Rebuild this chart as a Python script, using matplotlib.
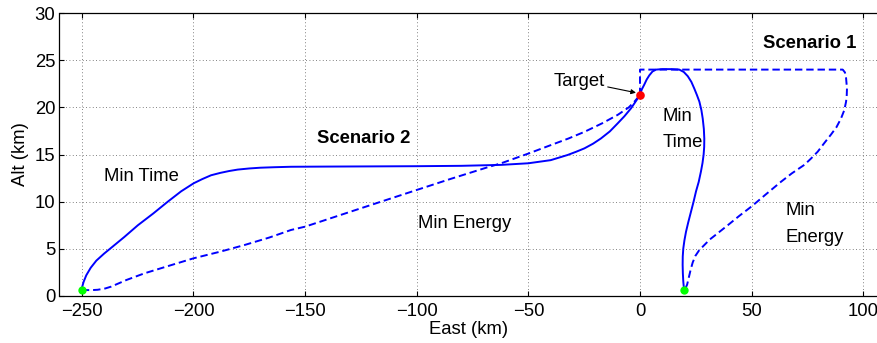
import matplotlib
matplotlib.use("Agg")
import matplotlib.pyplot as plt

plt.rcParams['font.family'] = ['Liberation Sans', 'DejaVu Sans']
plt.rcParams['font.size'] = 13.3

# ---- data (km) ----
# Scenario 2, minimum time (solid)
s2_time_x = [-250, -249.8, -249.2, -248, -246, -243.5, -240, -236.9, -231, -224.9, -218,
             -211.5, -205.5, -199.9, -196, -192.1, -188, -184, -180.2, -175, -170, -164,
             -156.3, -140, -120, -100, -80, -62.2, -50, -40, -32.4, -28.5, -24.9, -21,
             -17.5, -13.5, -10, -7, -4, -2, 0]
s2_time_y = [0.64, 1.0, 1.5, 2.2, 3.0, 3.75, 4.5, 5.1, 6.25, 7.5, 8.75,
             10.0, 11.1, 11.95, 12.4, 12.8, 13.05, 13.25, 13.4, 13.52, 13.6, 13.65,
             13.7, 13.72, 13.74, 13.76, 13.8, 13.9, 14.07, 14.4, 14.95, 15.3, 15.65, 16.15,
             16.7, 17.45, 18.3, 19.05, 19.9, 20.6, 21.3]

# Scenario 2, minimum energy (dashed)
s2_energy_x = [-250, -246, -242.9, -239.5, -236.9, -230, -222, -211, -199.9, -188, -177.2,
               -166, -156.3, -150, -125, -100, -85, -68.2, -62.2, -50, -39.9, -32, -24.9,
               -17, -10, -5, -2.5, 0]
s2_energy_y = [0.64, 0.62, 0.66, 0.8, 0.99, 1.7, 2.4, 3.2, 4.0, 4.7, 5.4,
               6.2, 7.0, 7.35, 9.3, 11.24, 12.4, 13.65, 14.07, 15.1, 16.0, 16.7, 17.4,
               18.3, 19.2, 20.0, 20.6, 21.3]

# Scenario 1, minimum time (solid)
s1_time_x = [0, 0.8, 1.9, 3, 4.2, 5.6, 7.2, 10, 14, 17.6, 19.6, 21.4, 23, 24.3, 25.5, 26.6,
             27.5, 28.1, 28.6, 28.8, 28.75, 28.5, 28, 27.3, 26.3, 25.1, 24, 22.8, 21.6, 20.6,
             19.9, 19.4, 19.15, 19.1, 19.2, 19.4, 19.6, 19.9]
s1_time_y = [21.3, 21.9, 22.4, 22.95, 23.4, 23.8, 24.0, 24.05, 24.05, 24.0, 23.75, 23.3,
             22.7, 22.0, 21.3, 20.6, 19.7, 18.8, 17.7, 16.7, 15.8, 15.0, 14.1, 13.2, 12.1,
             11.1, 10.0, 8.9, 7.8, 6.8, 5.9, 5.05, 4.2, 3.3, 2.4, 1.5, 1.0, 0.6]

# Scenario 1, minimum energy (dashed)
s1_energy_x = [0, 0, 90.8, 91.8, 92.3, 92.7, 92.6, 92.3, 91.5, 90, 88, 85.5, 82.5, 79.6,
               76.5, 73.6, 68, 63.1, 56.5, 50, 44.5, 39.3, 34, 31.3, 28.8, 26.5, 24.8,
               23.6, 22.7, 21.9, 21.1, 19.9]
s1_energy_y = [21.3, 24, 24, 23.7, 23.1, 22.0, 21.3, 20.6, 19.7, 18.8, 17.9, 17.1, 16.2,
               15.3, 14.55, 13.9, 13.0, 12.1, 10.8, 9.5, 8.5, 7.5, 6.5, 6.0, 5.4, 4.85,
               4.25, 3.55, 2.8, 2.0, 1.2, 0.6]

start_x = [-250, 19.9]
start_y = [0.62, 0.6]
target_x = [0]
target_y = [21.3]

xticks = [-250, -200, -150, -100, -50, 0, 50, 100]
yticks = [0, 5, 10, 15, 20, 25, 30]

# ---- figure ----
fig = plt.figure(figsize=(8.78, 3.43), dpi=100)
ax = fig.add_axes([59.5 / 878, 47 / 343, 1 - 59.5 / 878, 283 / 343])

blue = (0, 0, 1)
lw = 1.4
dash = (0, (3.8, 2.0))
ax.plot(s2_time_x, s2_time_y, color=blue, lw=lw, solid_joinstyle='round')
ax.plot(s2_energy_x, s2_energy_y, color=blue, lw=lw, linestyle=dash)
ax.plot(s1_time_x, s1_time_y, color=blue, lw=lw, solid_joinstyle='round')
ax.plot(s1_energy_x, s1_energy_y, color=blue, lw=lw, linestyle=dash)

ax.plot(start_x, start_y, 'o', color=(0, 1, 0), markersize=6, markeredgewidth=0, zorder=5)
ax.plot(target_x, target_y, 'o', color=(1, 0, 0), markersize=6.2, markeredgewidth=0, zorder=5)

ax.set_xlim(-260, 106.6)
ax.set_ylim(0, 30)
ax.set_xticks(xticks)
ax.set_yticks(yticks)
ax.set_xticklabels([f"\u2212{abs(v)}" if v < 0 else str(v) for v in xticks])

ax.grid(True, color=(0.35, 0.35, 0.35), linestyle=(0, (1, 3)), linewidth=0.6)
ax.tick_params(direction='in', length=3.5, width=0.8, top=True, right=False)
ax.tick_params(axis='x', pad=5)
ax.tick_params(axis='y', pad=3)
for s in ax.spines.values():
    s.set_linewidth(0.9)
ax.spines['right'].set_visible(False)

ax.set_xlabel("East (km)", labelpad=1)
ax.set_ylabel("Alt (km)", labelpad=4)

# ---- annotations ----
ax.text(55.2, 26.3, "Scenario 1", fontweight='bold', ha='left', va='baseline')
ax.text(-144.6, 16.2, "Scenario 2", fontweight='bold', ha='left', va='baseline')
ax.text(-240, 12.2, "Min Time", ha='left', va='baseline')
ax.text(-99.6, 7.18, "Min Energy", ha='left', va='baseline')
ax.text(10.1, 18.6, "Min", ha='left', va='baseline')
ax.text(10.1, 15.8, "Time", ha='left', va='baseline')
ax.text(65.1, 8.6, "Min", ha='left', va='baseline')
ax.text(65.1, 5.76, "Energy", ha='left', va='baseline')
ax.annotate("Target", xy=(-1.8, 21.55), xytext=(-15.7, 22.3),
            ha='right', va='baseline',
            arrowprops=dict(arrowstyle='-|>', color='black', lw=0.8,
                            mutation_scale=7, shrinkA=0, shrinkB=0))

fig.savefig("out.png", dpi=100)
